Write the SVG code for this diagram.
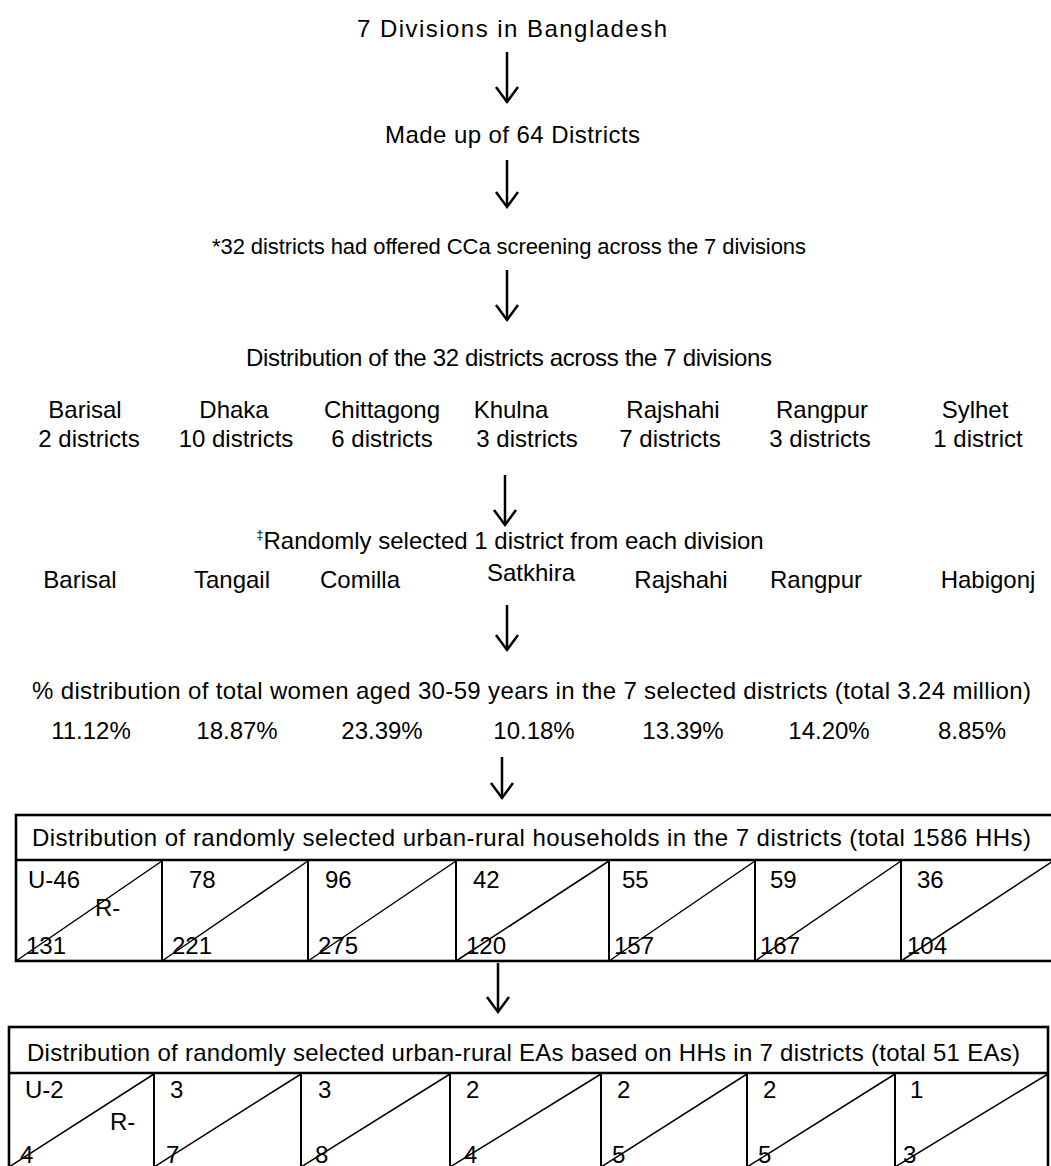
<svg xmlns="http://www.w3.org/2000/svg" width="1051" height="1166" viewBox="0 0 1051 1166">
<style>
text{font-family:"Liberation Sans",Arial,sans-serif;font-size:24px;fill:#000}
.c{text-anchor:middle}
.sm{font-size:22px}
.sup{font-size:13px}
.shaft{stroke:#000;stroke-width:2.5;fill:none}
.border{stroke:#000;stroke-width:2.6;fill:none}
.div{stroke:#000;stroke-width:2;fill:none}
.diag{stroke:#000;stroke-width:1.5;fill:none}
</style>
<defs>
<marker id="ah" markerUnits="userSpaceOnUse" markerWidth="24" markerHeight="26" refX="17" refY="12" orient="auto" overflow="visible">
<path d="M2,1 L17,12 L2,23" fill="none" stroke="#000" stroke-width="2.5"/>
</marker>
</defs>
<rect width="1051" height="1166" fill="#fff"/>

<g id="level-divisions"><text x="357" y="37" textLength="310" lengthAdjust="spacing">7 Divisions in Bangladesh</text></g>
<g id="level-districts"><text x="385" y="143" textLength="255" lengthAdjust="spacing">Made up of 64 Districts</text></g>
<g id="level-screening"><text class="sm" x="212" y="254" textLength="594" lengthAdjust="spacing">*32 districts had offered CCa screening across the 7 divisions</text></g>
<g id="level-distribution">
<text x="246" y="366" textLength="526" lengthAdjust="spacing">Distribution of the 32 districts across the 7 divisions</text>
<text class="c" x="85" y="418">Barisal</text>
<text class="c" x="234" y="418">Dhaka</text>
<text class="c" x="382" y="418">Chittagong</text>
<text class="c" x="511" y="418">Khulna</text>
<text class="c" x="673" y="418">Rajshahi</text>
<text class="c" x="822" y="418">Rangpur</text>
<text class="c" x="975" y="418">Sylhet</text>
<text class="c" x="89" y="447">2 districts</text>
<text class="c" x="236" y="447">10 districts</text>
<text class="c" x="382" y="447">6 districts</text>
<text class="c" x="527" y="447">3 districts</text>
<text class="c" x="670" y="447">7 districts</text>
<text class="c" x="820" y="447">3 districts</text>
<text class="c" x="978" y="447">1 district</text>
</g>
<g id="level-selected">
<text class="c" x="510" y="549"><tspan class="sup" dy="-10">‡</tspan><tspan dy="10">Randomly selected 1 district from each division</tspan></text>
<text class="c" x="80" y="588">Barisal</text>
<text class="c" x="232" y="588">Tangail</text>
<text class="c" x="360" y="588">Comilla</text>
<text class="c" x="531" y="581">Satkhira</text>
<text class="c" x="681" y="588">Rajshahi</text>
<text class="c" x="816" y="588">Rangpur</text>
<text class="c" x="988" y="588">Habigonj</text>
</g>
<g id="level-women">
<text x="32" y="699" textLength="999" lengthAdjust="spacing">% distribution of total women aged 30-59 years in the 7 selected districts (total 3.24 million)</text>
<text class="c" x="91" y="739">11.12%</text>
<text class="c" x="237" y="739">18.87%</text>
<text class="c" x="382" y="739">23.39%</text>
<text class="c" x="534" y="739">10.18%</text>
<text class="c" x="683" y="739">13.39%</text>
<text class="c" x="829" y="739">14.20%</text>
<text class="c" x="972" y="739">8.85%</text>
</g>

<g id="table-households">
<rect class="border" x="16" y="815" width="1037" height="146"/>
<line class="border" x1="16" y1="860" x2="1053" y2="860"/>
<path class="div" d="M162,860V961M308,860V961M456,860V961M609,860V961M755,860V961M901,860V961"/>
<path class="diag" d="M16,961L162,861M162,961L308,861M308,961L456,861M456,961L609,861M609,961L755,861M755,961L901,861M901,961L1053,861"/>
<text x="32" y="846" textLength="999" lengthAdjust="spacing">Distribution of randomly selected urban-rural households in the 7 districts (total 1586 HHs)</text>
<text x="28" y="888">U-46</text>
<text x="95" y="916">R-</text>
<text x="189" y="888">78</text>
<text x="325" y="888">96</text>
<text x="473" y="888">42</text>
<text x="622" y="888">55</text>
<text x="770" y="888">59</text>
<text x="917" y="888">36</text>
<text x="26" y="954">131</text>
<text x="172" y="954">221</text>
<text x="318" y="954">275</text>
<text x="466" y="954">120</text>
<text x="614" y="954">157</text>
<text x="760" y="954">167</text>
<text x="907" y="954">104</text>
</g>

<g id="table-eas">
<rect class="border" x="9" y="1027" width="1039" height="145"/>
<line class="border" x1="9" y1="1073" x2="1048" y2="1073"/>
<path class="div" d="M154,1073V1172M301,1073V1172M450,1073V1172M601,1073V1172M747,1073V1172M895,1073V1172"/>
<path class="diag" d="M9,1167L154,1074M154,1167L301,1074M301,1167L450,1074M450,1167L601,1074M601,1167L747,1074M747,1167L895,1074M895,1167L1048,1074"/>
<text x="27" y="1061" textLength="993" lengthAdjust="spacing">Distribution of randomly selected urban-rural EAs based on HHs in 7 districts (total 51 EAs)</text>
<text x="25" y="1098">U-2</text>
<text x="110" y="1130">R-</text>
<text x="170" y="1098">3</text>
<text x="318" y="1098">3</text>
<text x="466" y="1098">2</text>
<text x="617" y="1098">2</text>
<text x="763" y="1098">2</text>
<text x="910" y="1098">1</text>
<text x="20" y="1163">4</text>
<text x="166" y="1163">7</text>
<text x="315" y="1163">8</text>
<text x="464" y="1163">4</text>
<text x="612" y="1163">5</text>
<text x="758" y="1163">5</text>
<text x="903" y="1163">3</text>
</g>

<g id="connectors">
<line class="shaft" x1="507" y1="52" x2="507" y2="102" marker-end="url(#ah)"/>
<line class="shaft" x1="507" y1="160" x2="507" y2="207" marker-end="url(#ah)"/>
<line class="shaft" x1="507" y1="270" x2="507" y2="320" marker-end="url(#ah)"/>
<line class="shaft" x1="505" y1="475" x2="505" y2="525" marker-end="url(#ah)"/>
<line class="shaft" x1="507" y1="605" x2="507" y2="650" marker-end="url(#ah)"/>
<line class="shaft" x1="502" y1="757" x2="502" y2="798" marker-end="url(#ah)"/>
<line class="shaft" x1="498" y1="963" x2="498" y2="1012" marker-end="url(#ah)"/>
</g>
</svg>
